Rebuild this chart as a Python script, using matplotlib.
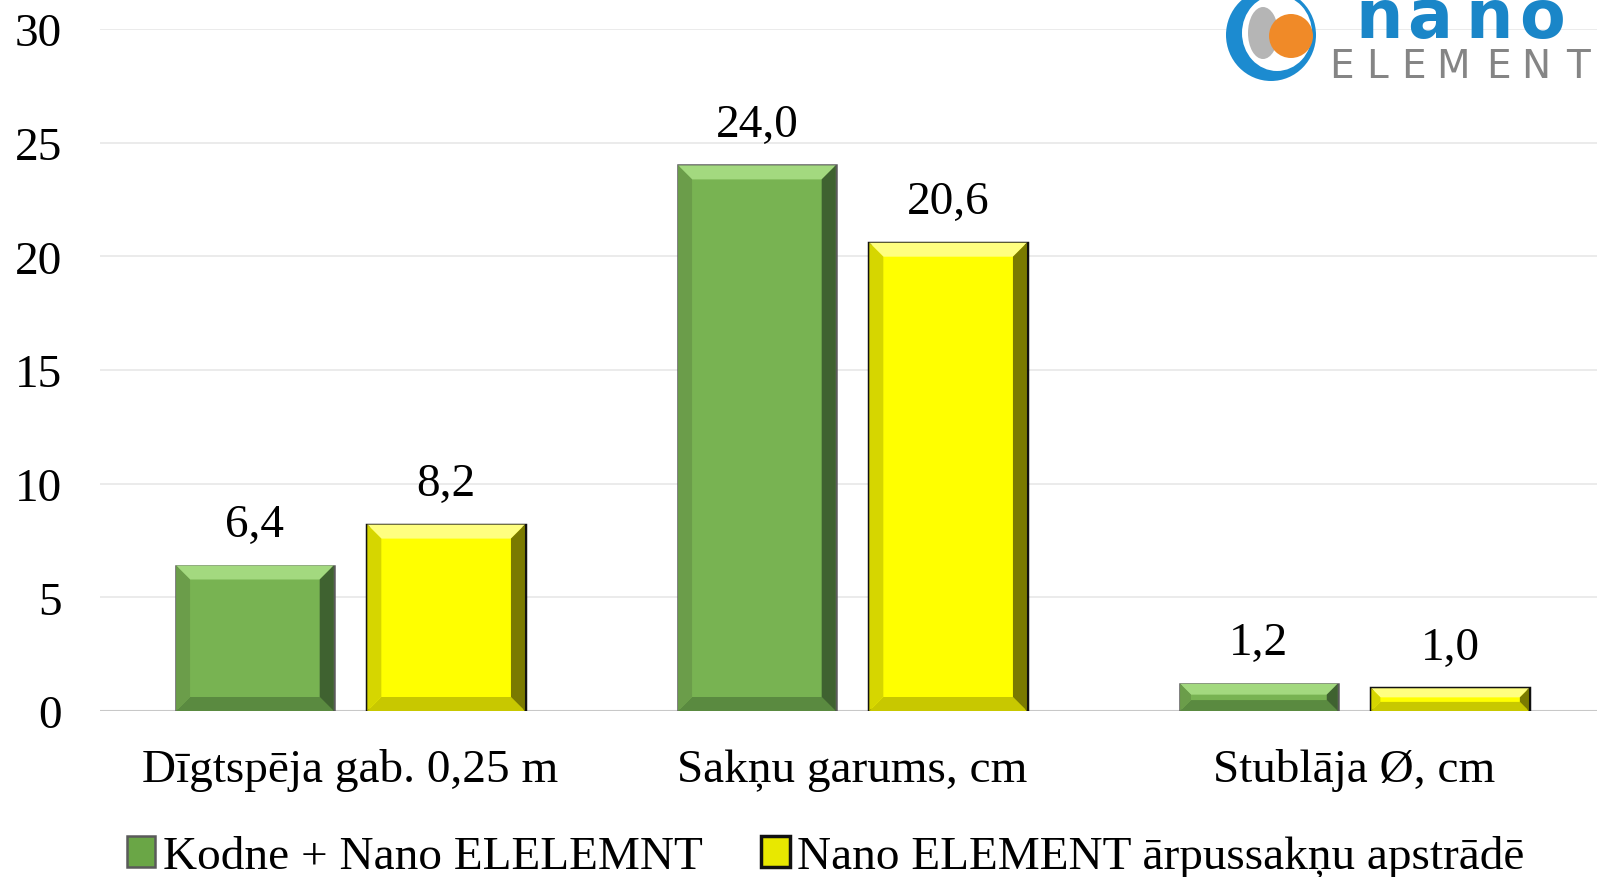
import matplotlib
matplotlib.use("Agg")
import matplotlib.pyplot as plt
import numpy as np
from matplotlib.patches import Polygon, Circle, Ellipse, Patch

plt.rcParams["font.family"] = ["Liberation Serif", "DejaVu Serif"]

# data
categories = ["Dīgtspēja gab. 0,25 m", "Sakņu garums, cm", "Stublāja Ø, cm"]
series_names = ["Kodne + Nano ELELEMNT", "Nano ELEMENT ārpussakņu apstrādē"]
kodne = [6.4, 24.0, 1.2]
nano = [8.2, 20.6, 1.0]
value_labels_1 = ["6,4", "24,0", "1,2"]
value_labels_2 = ["8,2", "20,6", "1,0"]
yticks = [0, 5, 10, 15, 20, 25, 30]

GREEN = "#78b352"
YELLOW = "#ffff00"
BAR_W = 0.314
GAP = 0.067
BEVEL_PX = 14
FS = 34

fig = plt.figure(figsize=(15.97, 8.78), dpi=100)
ax = fig.add_axes([99.5 / 1597, 166 / 878, 1506 / 1597, 682 / 878])

x = np.arange(len(categories))
off = (BAR_W + GAP) / 2
b1 = ax.bar(x - off, kodne, BAR_W, color=GREEN, edgecolor="#5a5a5a", linewidth=1.8, zorder=3)
b2 = ax.bar(x + off, nano, BAR_W, color=YELLOW, edgecolor="#111111", linewidth=2.5, zorder=3)

ax.set_xlim(-0.5, 2.5)
ax.set_ylim(0, 30)
ax.set_yticks(yticks)
ax.set_yticklabels([str(t) for t in yticks])
ax.set_xticks(x)
ax.set_xticklabels(categories)
ax.tick_params(axis="y", length=0, pad=27, labelsize=FS)
ax.tick_params(axis="x", length=0, pad=27, labelsize=FS)
for s in ax.spines.values():
    s.set_visible(False)
ax.grid(axis="y", color="#e8e8e8", linewidth=1.2, zorder=0)
ax.axhline(0, color="#c8c8c8", linewidth=1.5, zorder=2)

# bevel shading of the bars
px_x = 1506 / 3.0
px_y = 682 / 30.0


def bevel(bar, light, dark, side, bottom):
    x0, y0 = bar.get_x(), bar.get_y()
    w, h = bar.get_width(), bar.get_height()
    by = min(BEVEL_PX / px_y, h * 0.4)
    bx = min(BEVEL_PX / px_x, by * px_y / px_x)
    x1, y1 = x0 + w, y0 + h
    top = [(x0, y1), (x1, y1), (x1 - bx, y1 - by), (x0 + bx, y1 - by)]
    bot = [(x0, y0), (x1, y0), (x1 - bx, y0 + by), (x0 + bx, y0 + by)]
    lft = [(x0, y0), (x0, y1), (x0 + bx, y1 - by), (x0 + bx, y0 + by)]
    rgt = [(x1, y0), (x1, y1), (x1 - bx, y1 - by), (x1 - bx, y0 + by)]
    for pts, c in [(top, light), (bot, bottom), (lft, side), (rgt, dark)]:
        ax.add_patch(Polygon(pts, closed=True, facecolor=c, edgecolor="none", zorder=4))


for b in b1:
    bevel(b, "#a3d97f", "#3f6230", "#6b9d4a", "#5a8a40")
for b in b2:
    bevel(b, "#ffff80", "#7a7a00", "#d6d600", "#c8c800")

for bars, labs in [(b1, value_labels_1), (b2, value_labels_2)]:
    for b, lab in zip(bars, labs):
        ax.annotate(lab, (b.get_x() + b.get_width() / 2, b.get_height()),
                    xytext=(0, 14), textcoords="offset points",
                    ha="center", va="bottom", fontsize=FS, zorder=5)

# legend
handles = [Patch(facecolor="#6aa646", edgecolor="#5a5a5a", linewidth=1.8),
           Patch(facecolor="#e8e800", edgecolor="#111111", linewidth=2.5)]
fig.legend(handles, series_names, loc="center", bbox_to_anchor=(0.517, 0.023),
           ncol=2, frameon=False, fontsize=FS, handlelength=0.6, handleheight=0.65,
           handletextpad=0.15, columnspacing=1.25, borderpad=0)

# logo (top right, partly cut off)
lax = fig.add_axes([1221 / 1597, 1 - 86 / 878, 100 / 1597, 100 / 878])
lax.set_xlim(-50, 50)
lax.set_ylim(-50, 50)
lax.set_aspect("equal")
lax.axis("off")
lax.add_patch(Ellipse((0, 0), 90, 92, facecolor="#1c8bd0", edgecolor="none"))
lax.add_patch(Ellipse((6, 2), 70, 76, facecolor="white", edgecolor="none"))
lax.add_patch(Ellipse((-8, 2), 30, 52, facecolor="#b5b5b5", edgecolor="none"))
lax.add_patch(Circle((20, -1), 22, facecolor="#f08a28", edgecolor="none"))

logo_top = "nano"
logo_top_x = [1355, 1407, 1465, 1519]
for ch, lx in zip(logo_top, logo_top_x):
    fig.text(lx / 1597, 1 - 38 / 878, ch, color="#1a86c8", fontsize=48,
             family="DejaVu Sans", weight="bold", ha="left", va="baseline")
logo_bottom = "ELEMENT"
logo_bottom_x = [1329, 1366, 1401, 1436, 1486, 1521, 1566]
for ch, lx in zip(logo_bottom, logo_bottom_x):
    fig.text(lx / 1597, 1 - 78 / 878, ch, color="#858585", fontsize=28,
             family="DejaVu Sans", ha="left", va="baseline")

fig.savefig("out.png", dpi=100)
